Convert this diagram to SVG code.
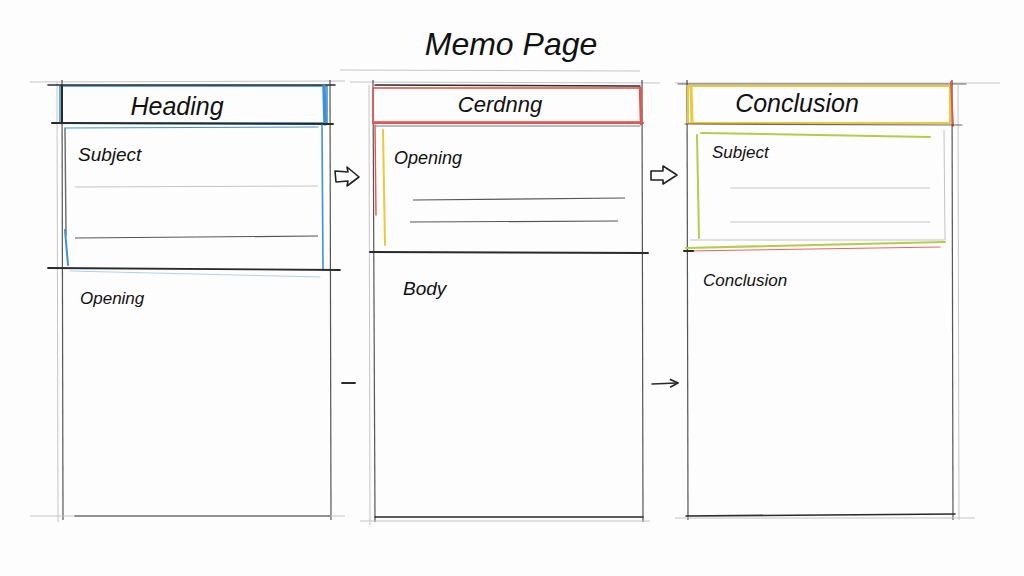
<svg xmlns="http://www.w3.org/2000/svg" width="1024" height="576" viewBox="0 0 1024 576">
<defs>
<style>
.bg{fill:#fdfdfd}
.t{font-family:"Liberation Sans","DejaVu Sans",sans-serif;font-style:italic;fill:#111}
.ink{stroke:#2a2a2a;fill:none;stroke-linecap:round}
.pen{stroke:#555;fill:none;stroke-width:1.2}
.faint{stroke:#c4c4c4;fill:none;stroke-width:1}
.blue{stroke:#3d92d4;fill:none;stroke-linecap:round}
.red{stroke:#e0554f;fill:none;stroke-linecap:round}
.yel{stroke:#ecc83c;fill:none;stroke-linecap:round}
.grn{stroke:#b5cc4a;fill:none;stroke-linecap:round}
.hollow{fill:#fff;stroke:#222;stroke-width:1.6;stroke-linejoin:round}
</style>
<marker id="ah" markerWidth="10" markerHeight="10" refX="8" refY="5" orient="auto" markerUnits="userSpaceOnUse">
<path d="M1,1 L9,5 L1,9" fill="none" stroke="#222" stroke-width="1.6"/>
</marker>
</defs>
<rect class="bg" x="0" y="0" width="1024" height="576"/>

<g id="title">
<text class="t" x="511" y="55" font-size="32" text-anchor="middle">Memo Page</text>
<line class="faint" x1="340" y1="70" x2="640" y2="71"/>
</g>

<g id="panel1">
<line class="faint" x1="30" y1="82" x2="345" y2="81"/>
<line class="pen" x1="62" y1="80" x2="63" y2="520"/>
<line class="pen" x1="330" y1="80" x2="331" y2="520"/>
<line class="faint" x1="57" y1="82" x2="58" y2="522"/>
<g id="heading1">
<rect x="60" y="86" width="267" height="37" fill="#f7fbfe" class="blue" stroke-width="1.6"/>
<line class="ink" x1="48" y1="85" x2="335" y2="85" stroke-width="1.6"/>
<line class="ink" x1="62" y1="86" x2="62" y2="123" stroke-width="2"/>
<line class="blue" x1="324" y1="86" x2="325" y2="124" stroke-width="3.5"/>
<line class="ink" x1="52" y1="123" x2="333" y2="124" stroke-width="2"/>
<text class="t" x="177" y="115" font-size="25" text-anchor="middle">Heading</text>
</g>
<g id="subject1">
<line class="ink" x1="65" y1="128" x2="66" y2="235" stroke-width="1.4" opacity="0.7"/>
<line class="blue" x1="65" y1="230" x2="68" y2="265" stroke-width="2"/>
<line class="blue" x1="322" y1="125" x2="323" y2="270" stroke-width="1.6"/>
<line class="blue" x1="66" y1="128" x2="318" y2="127" stroke-width="1"/>
<line class="faint" x1="75" y1="187" x2="318" y2="186"/>
<line class="pen" x1="75" y1="238" x2="318" y2="236" stroke="#999"/>
<line class="blue" x1="70" y1="271" x2="320" y2="277" stroke-width="0.8" opacity="0.5"/>
<line class="ink" x1="48" y1="268" x2="340" y2="270" stroke-width="1.8"/>
<text class="t" x="78" y="161" font-size="19">Subject</text>
</g>
<g id="opening1">
<line class="ink" x1="75" y1="516" x2="330" y2="516" stroke-width="1.6"/>
<line class="faint" x1="30" y1="516" x2="345" y2="516"/>
<text class="t" x="80" y="304" font-size="17">Opening</text>
</g>
</g>

<g id="panel2">
<line class="faint" x1="350" y1="82" x2="660" y2="83"/>
<line class="pen" x1="373" y1="80" x2="375" y2="522"/>
<line class="pen" x1="642" y1="80" x2="643" y2="522"/>
<line class="faint" x1="369" y1="85" x2="370" y2="525"/>
<g id="heading2">
<rect x="373" y="88" width="268" height="34" fill="#fff" class="red" stroke-width="1.6"/>
<line class="ink" x1="375" y1="85" x2="640" y2="86" stroke-width="1.4"/>
<line class="red" x1="640" y1="88" x2="641" y2="124" stroke-width="2.5"/>
<line class="red" x1="373" y1="123" x2="643" y2="123" stroke-width="2.2"/>
<line class="ink" x1="376" y1="126" x2="640" y2="126" stroke-width="1" opacity="0.6"/>
<text class="t" x="500" y="112" font-size="22" text-anchor="middle">Cerdnng</text>
</g>
<g id="opening2">
<line class="red" x1="375" y1="125" x2="376" y2="215" stroke-width="1.4"/>
<line class="yel" x1="383" y1="130" x2="385" y2="245" stroke-width="2"/>
<line class="pen" x1="413" y1="200" x2="625" y2="198" stroke="#888"/>
<line class="pen" x1="410" y1="222" x2="618" y2="221" stroke="#888"/>
<line class="ink" x1="370" y1="252" x2="648" y2="253" stroke-width="2"/>
<text class="t" x="394" y="164" font-size="18">Opening</text>
</g>
<g id="body2">
<line class="ink" x1="375" y1="517" x2="643" y2="517" stroke-width="1.6"/>
<line class="faint" x1="360" y1="521" x2="650" y2="521"/>
<text class="t" x="403" y="295" font-size="19">Body</text>
</g>
</g>

<g id="panel3">
<line class="faint" x1="675" y1="83" x2="1000" y2="83"/>
<line class="pen" x1="687" y1="80" x2="688" y2="520"/>
<line class="pen" x1="952" y1="80" x2="953" y2="520"/>
<line class="faint" x1="958" y1="85" x2="959" y2="520"/>
<g id="heading3">
<rect x="688" y="86" width="262" height="37" fill="#fffdf2" class="yel" stroke-width="2"/>
<line class="ink" x1="678" y1="84" x2="966" y2="84" stroke-width="1.2" opacity="0.7"/>
<line class="yel" x1="691" y1="86" x2="692" y2="122" stroke-width="3"/>
<line class="red" x1="951" y1="82" x2="953" y2="126" stroke-width="1.8"/>
<line class="ink" x1="685" y1="124" x2="962" y2="125" stroke-width="1.2" opacity="0.7"/>
<text class="t" x="797" y="112" font-size="25" text-anchor="middle">Conclusion</text>
</g>
<g id="subject3">
<line class="grn" x1="697" y1="135" x2="699" y2="238" stroke-width="2"/>
<line class="grn" x1="701" y1="133" x2="930" y2="137" stroke-width="2"/>
<line class="faint" x1="944" y1="130" x2="945" y2="240" stroke="#b8d4e8"/>
<line class="faint" x1="730" y1="188" x2="930" y2="188"/>
<line class="faint" x1="730" y1="222" x2="930" y2="222"/>
<line class="faint" x1="690" y1="240" x2="945" y2="240"/>
<line class="grn" x1="686" y1="248" x2="945" y2="242" stroke-width="2.2"/>
<line class="red" x1="686" y1="251" x2="940" y2="247" stroke-width="0.9"/>
<line class="ink" x1="684" y1="251" x2="693" y2="251" stroke-width="2.2"/>
<text class="t" x="712" y="158" font-size="17">Subject</text>
</g>
<g id="conclusion3">
<line class="ink" x1="686" y1="516" x2="955" y2="514" stroke-width="1.6"/>
<line class="faint" x1="675" y1="518" x2="975" y2="518"/>
<text class="t" x="703" y="286" font-size="17">Conclusion</text>
</g>
</g>

<g id="connectors">
<path class="hollow" d="M335,171 L348,172 L347,167 L359,177 L347,186 L348,181 L336,182 Z"/>
<path class="hollow" d="M651,171 L663,171 L663,166 L677,175 L663,184 L663,180 L651,180 Z"/>
<line class="ink" x1="342" y1="383" x2="355" y2="383" stroke-width="1.8"/>
<line class="ink" x1="652" y1="384" x2="677" y2="383" stroke-width="1.6" marker-end="url(#ah)"/>
</g>
</svg>
